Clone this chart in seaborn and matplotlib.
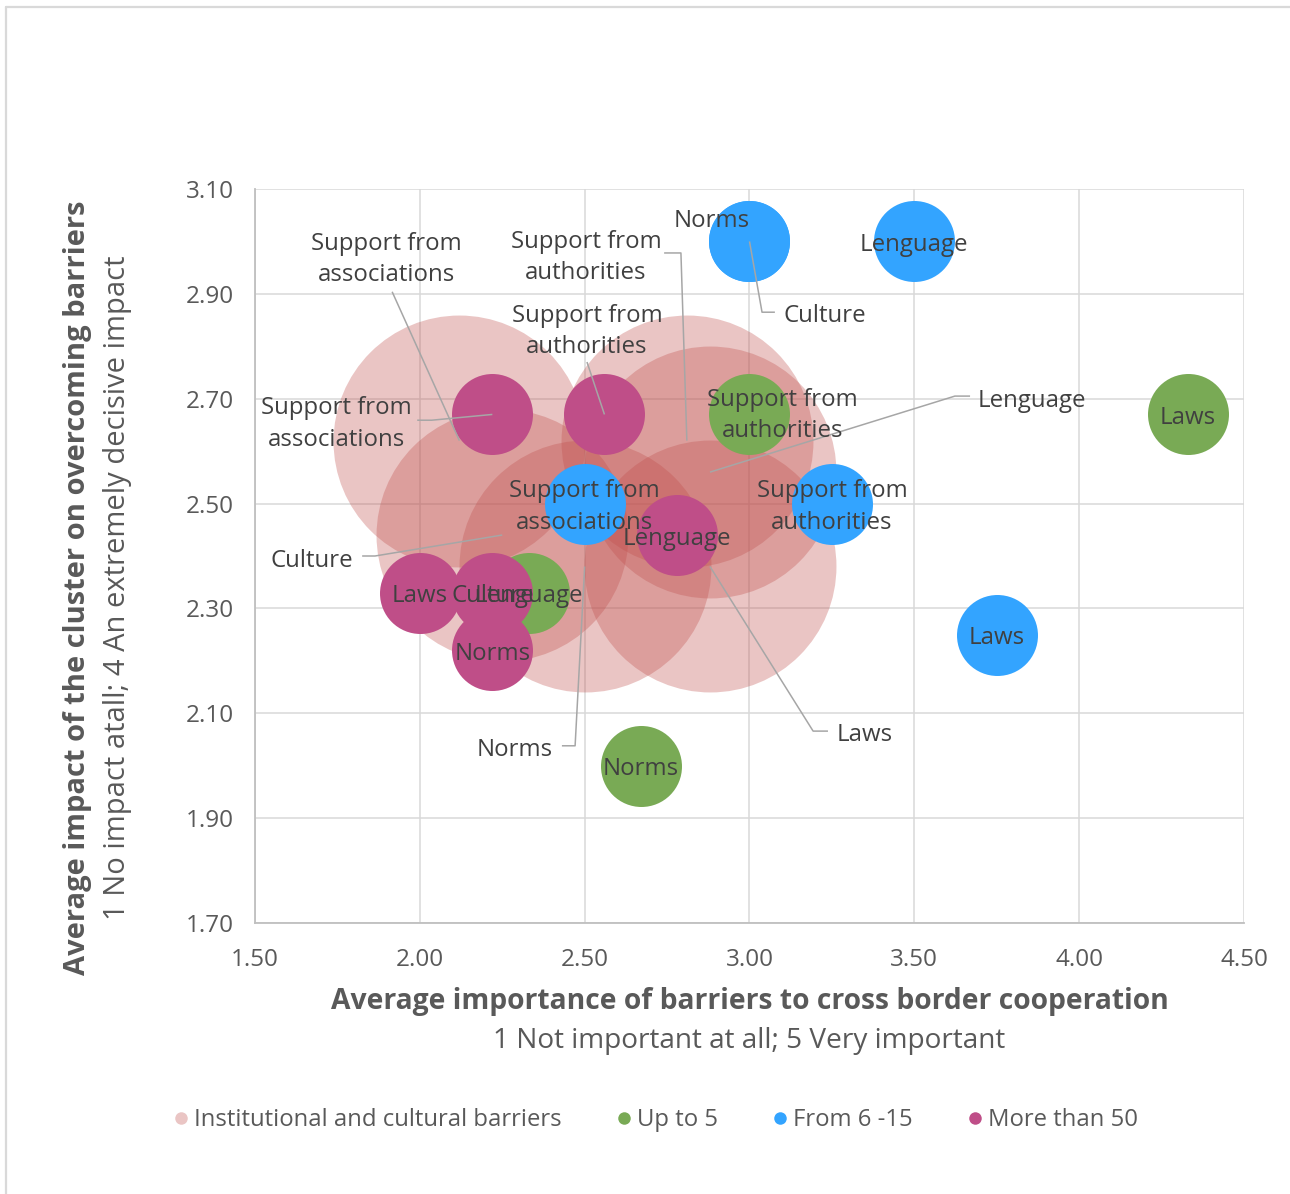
import matplotlib
matplotlib.use("Agg")
import matplotlib.pyplot as plt
import matplotlib.transforms as mtransforms
import seaborn as sns
import pandas as pd
from matplotlib.lines import Line2D

# ---------------- data ----------------
series_names = ["Institutional and cultural barriers", "Up to 5", "From 6 -15", "More than 50"]

barrier_labels = ["Support from\nassociations", "Support from\nauthorities", "Lenguage", "Culture", "Norms", "Laws"]
barrier_x = [2.12, 2.81, 2.88, 2.25, 2.50, 2.88]
barrier_y = [2.62, 2.62, 2.56, 2.44, 2.38, 2.38]

up5_labels = ["Laws", "Support from\nauthorities", "Norms", "Lenguage"]
up5_x = [4.33, 3.00, 2.67, 2.33]
up5_y = [2.67, 2.67, 2.00, 2.33]

mid_labels = ["Norms", "Culture", "Lenguage", "Laws", "Support from\nauthorities", "Support from\nassociations"]
mid_x = [3.00, 3.00, 3.50, 3.75, 3.25, 2.50]
mid_y = [3.00, 3.00, 3.00, 2.25, 2.50, 2.50]

big_labels = ["Support from\nassociations", "Support from\nauthorities", "Lenguage", "Laws", "Culture", "Norms"]
big_x = [2.22, 2.56, 2.78, 2.00, 2.22, 2.22]
big_y = [2.67, 2.67, 2.44, 2.33, 2.33, 2.22]

x_ticks = [1.50, 2.00, 2.50, 3.00, 3.50, 4.00, 4.50]
y_ticks = [1.70, 1.90, 2.10, 2.30, 2.50, 2.70, 2.90, 3.10]

# ---------------- styling ----------------
colors = ["#C0504D", "#79AA55", "#33A4FF", "#BF4E88"]
alphas = [0.33, 1.0, 1.0, 1.0]
areas = [32900, 3400, 3400, 3400]          # marker area in pt^2
grid_c = "#D9D9D9"
axis_c = "#BFBFBF"
tick_c = "#595959"
label_c = "#404040"
leader_c = "#A6A6A6"
FONT = ["Open Sans", "DejaVu Sans"]

sns.set_theme(style="white")
plt.rcParams["font.family"] = FONT

fig = plt.figure(figsize=(12.9, 11.94), dpi=100)
ax = fig.add_axes([255 / 1290, 1 - 923 / 1194, (1244 - 255) / 1290, (923 - 189) / 1194])

frames = []
for name, xs, ys, labs in [
    (series_names[0], barrier_x, barrier_y, barrier_labels),
    (series_names[1], up5_x, up5_y, up5_labels),
    (series_names[2], mid_x, mid_y, mid_labels),
    (series_names[3], big_x, big_y, big_labels),
]:
    frames.append(pd.DataFrame({"series": name, "x": xs, "y": ys, "label": labs}))
df = pd.concat(frames, ignore_index=True)

for i, name in enumerate(series_names):
    sub = df[df["series"] == name]
    sns.scatterplot(data=sub, x="x", y="y", s=areas[i], color=colors[i], alpha=alphas[i],
                    linewidth=0, ax=ax, legend=False, zorder=2 + i)

ax.set_xlim(1.5, 4.5)
ax.set_ylim(1.7, 3.1)
ax.set_xticks(x_ticks)
ax.set_yticks(y_ticks)
ax.set_xticklabels([f"{v:.2f}" for v in x_ticks])
ax.set_yticklabels([f"{v:.2f}" for v in y_ticks])
ax.set_xlabel("")
ax.set_ylabel("")
ax.set_axisbelow(True)
ax.grid(True, color=grid_c, linewidth=1.1)
for side in ["top", "right"]:
    ax.spines[side].set_visible(False)
for side in ["left", "bottom"]:
    ax.spines[side].set_color(axis_c)
    ax.spines[side].set_linewidth(1.3)
ax.tick_params(axis="both", direction="out", length=6, width=1.3, color=axis_c,
               labelcolor=tick_c, labelsize=17.5)
ax.tick_params(axis="y", pad=9.5)
ax.tick_params(axis="x", pad=12)
ax.set_facecolor("white")

# ---------------- data labels ----------------
# label placement: (series index, label text) -> (text x, text y, ha, leader elbow points)
placement = {
    (0, "Support from\nassociations"): (1.900, 2.972, "center", [(1.916, 2.904)]),
    (0, "Support from\nauthorities"): (2.504, 2.976, "center", [(2.741, 2.978), (2.792, 2.978)]),
    (0, "Lenguage"): (3.693, 2.703, "left", [(3.669, 2.705), (3.623, 2.705)]),
    (0, "Culture"): (1.673, 2.398, "center", [(1.825, 2.400), (1.864, 2.400)]),
    (0, "Norms"): (2.289, 2.036, "center", [(2.431, 2.038), (2.471, 2.038)]),
    (0, "Laws"): (3.265, 2.066, "left", [(3.238, 2.066), (3.193, 2.066)]),
    (1, "Support from\nauthorities"): (3.099, 2.675, "center", None),
    (2, "Norms"): (2.886, 3.045, "center", None),
    (2, "Culture"): (3.102, 2.865, "left", [(3.077, 2.865), (3.038, 2.865)]),
    (3, "Support from\nassociations"): (1.746, 2.658, "center", [(1.992, 2.659), (2.036, 2.659)]),
    (3, "Support from\nauthorities"): (2.507, 2.835, "center", [(2.507, 2.770)]),
}

text_tr = mtransforms.offset_copy(ax.transData, fig=fig, x=0, y=-2.5, units="points")

for i, name in enumerate(series_names):
    sub = df[df["series"] == name]
    for _, r in sub.iterrows():
        key = (i, r["label"])
        if key in placement:
            tx, ty, ha, elbow = placement[key]
        else:
            tx, ty, ha, elbow = r["x"], r["y"], "center", None
        ax.text(tx, ty, r["label"], ha=ha, va="center", fontsize=17.3, color=label_c,
                linespacing=1.42, zorder=10, transform=text_tr)
        if elbow:
            pts = elbow + [(r["x"], r["y"])]
            ax.plot([p[0] for p in pts], [p[1] for p in pts], color=leader_c,
                    linewidth=1.1, zorder=9, solid_capstyle="butt")

# ---------------- axis titles ----------------
cx = (255 + 1244) / 2 / 1290
fig.text(cx, 1 - 1002 / 1194, "Average importance of barriers to cross border cooperation",
         ha="center", va="center", fontsize=20.3, fontweight="bold", color=tick_c)
fig.text(cx, 1 - 1041 / 1194, "1 Not important at all; 5 Very important",
         ha="center", va="center", fontsize=20.2, color=tick_c)
cy = 1 - 588 / 1194
fig.text(78 / 1290, cy, "Average impact of the cluster on overcoming barriers",
         ha="center", va="center", rotation=90, fontsize=21, fontweight="bold", color=tick_c)
fig.text(118 / 1290, cy, "1 No impact atall; 4 An extremely decisive impact",
         ha="center", va="center", rotation=90, fontsize=21, color=tick_c)

# ---------------- legend ----------------
handles = [Line2D([0], [0], marker="o", linestyle="", markersize=9, markeredgewidth=0,
                  markerfacecolor=colors[i], alpha=alphas[i] if i == 0 else 1.0)
           for i in range(4)]
fig.legend(handles, series_names, loc="center", bbox_to_anchor=(656 / 1290, 1 - 1120 / 1194),
           ncol=4, frameon=False, fontsize=17.2, labelcolor=tick_c, handlelength=0.6,
           handletextpad=0.25, columnspacing=2.3)

# chart frame
fig.add_artist(Line2D([6 / 1290, 1], [1 - 7 / 1194, 1 - 7 / 1194], color=grid_c, linewidth=1.6,
                      transform=fig.transFigure))
fig.add_artist(Line2D([6 / 1290, 6 / 1290], [0, 1 - 7 / 1194], color=grid_c, linewidth=1.6,
                      transform=fig.transFigure))

fig.savefig("out.png", dpi=100, facecolor="white")
